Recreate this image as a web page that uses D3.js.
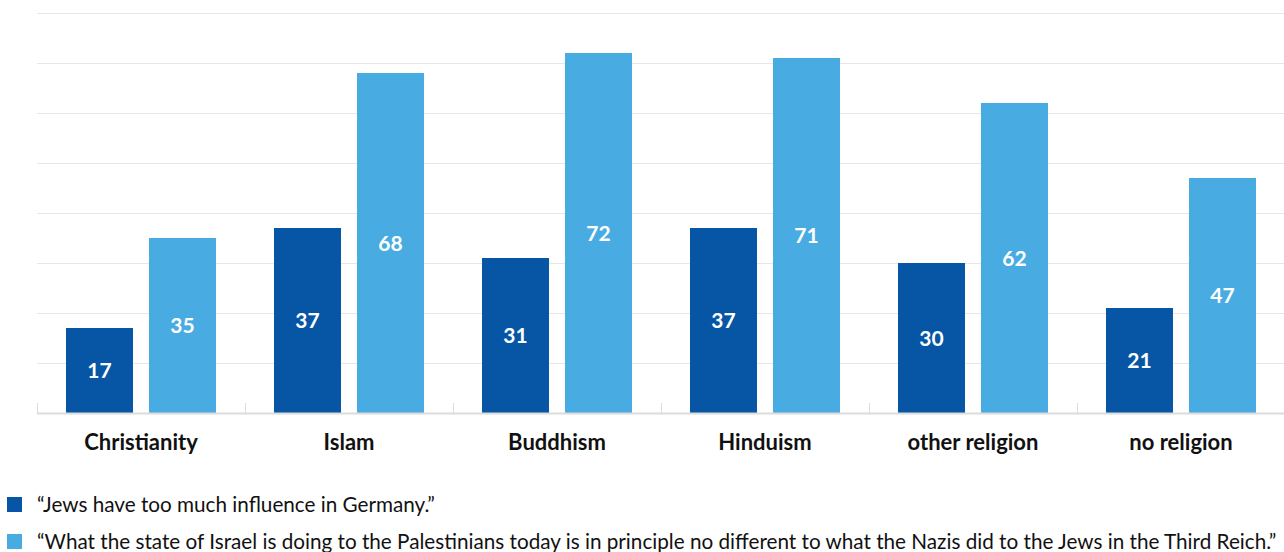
<!DOCTYPE html>
<html>
<head>
<meta charset="utf-8">
<script src="https://cdn.jsdelivr.net/npm/d3@7/dist/d3.min.js"></script>
<style>
  html, body { margin: 0; padding: 0; background: #fff; }
  svg { display: block; font-family: Lato, "Open Sans", sans-serif; }
</style>
</head>
<body>
<svg id="chart" width="1284" height="552"></svg>
<script>
const categories = ["Christianity", "Islam", "Buddhism", "Hinduism", "other religion", "no religion"];
const influenceValues = [17, 37, 31, 37, 30, 21];
const israelValues = [35, 68, 72, 71, 62, 47];
const seriesLabels = [
  "\u201cJews have too much influence in Germany.\u201d",
  "\u201cWhat the state of Israel is doing to the Palestinians today is in principle no different to what the Nazis did to the Jews in the Third Reich.\u201d"
];
const yTicks = [0, 10, 20, 30, 40, 50, 60, 70, 80];

const colors = ["#0656a5", "#48ace2"];
const series = [influenceValues, israelValues];

const svg = d3.select("#chart");
const plotLeft = 37, plotRight = 1285, plotTop = 13, plotBottom = 413;

const x = d3.scaleBand().domain(categories).range([plotLeft, plotRight]);
const xInner = d3.scaleBand().domain([0, 1]).range([29, 208 - 29]).paddingInner(16 / 83);
const y = d3.scaleLinear().domain([0, 80]).range([plotBottom, plotTop]);

// horizontal gridlines
svg.append("g")
  .selectAll("line")
  .data(yTicks.filter(d => d > 0))
  .join("line")
  .attr("x1", plotLeft).attr("x2", 1284)
  .attr("y1", d => y(d) + 0.5).attr("y2", d => y(d) + 0.5)
  .attr("stroke", "#e6e6e6").attr("stroke-width", 1);

// bars
const groups = svg.append("g")
  .selectAll("g")
  .data(categories)
  .join("g")
  .attr("transform", d => `translate(${x(d)},0)`);

groups.selectAll("rect")
  .data((d, i) => series.map((s, k) => ({ k, v: s[i] })))
  .join("rect")
  .attr("x", d => xInner(d.k))
  .attr("width", xInner.bandwidth())
  .attr("y", d => y(d.v))
  .attr("height", d => y(0) - y(d.v))
  .attr("fill", d => colors[d.k]);

groups.selectAll("text.val")
  .data((d, i) => series.map((s, k) => ({ k, v: s[i] })))
  .join("text")
  .attr("class", "val")
  .attr("x", d => xInner(d.k) + xInner.bandwidth() / 2)
  .attr("y", d => (y(d.v) + y(0)) / 2)
  .attr("dy", "0.36em")
  .attr("text-anchor", "middle")
  .attr("fill", "#fff")
  .attr("font-weight", 700)
  .attr("font-size", 21)
  .text(d => d.v);

// x axis
const xAxis = svg.append("g")
  .attr("transform", `translate(0,${plotBottom})`);
xAxis.append("line")
  .attr("x1", plotLeft).attr("x2", 1284)
  .attr("y1", 0.5).attr("y2", 0.5)
  .attr("stroke", "#dcdcdc").attr("stroke-width", 2);
xAxis.selectAll("line.tick")
  .data(categories)
  .join("line")
  .attr("class", "tick")
  .attr("x1", d => x(d) + 0.5).attr("x2", d => x(d) + 0.5)
  .attr("y1", -10).attr("y2", 0)
  .attr("stroke", "#dcdcdc").attr("stroke-width", 1);
xAxis.selectAll("text")
  .data(categories)
  .join("text")
  .attr("x", d => x(d) + x.bandwidth() / 2)
  .attr("y", 29)
  .attr("dy", "0.36em")
  .attr("text-anchor", "middle")
  .attr("fill", "#111")
  .attr("font-weight", 700)
  .attr("font-size", 22)
  .text(d => d);

// legend
const legend = svg.append("g")
  .selectAll("g")
  .data(seriesLabels)
  .join("g")
  .attr("transform", (d, i) => `translate(0,${504.5 + i * 37})`);
legend.append("rect")
  .attr("x", 7).attr("y", -7.5)
  .attr("width", 15).attr("height", 15)
  .attr("fill", (d, i) => colors[i]);
legend.append("text")
  .attr("x", 37).attr("y", 0)
  .attr("dy", "0.36em")
  .attr("fill", "#111")
  .attr("font-size", 20.7)
  .text(d => d);
</script>
</body>
</html>
